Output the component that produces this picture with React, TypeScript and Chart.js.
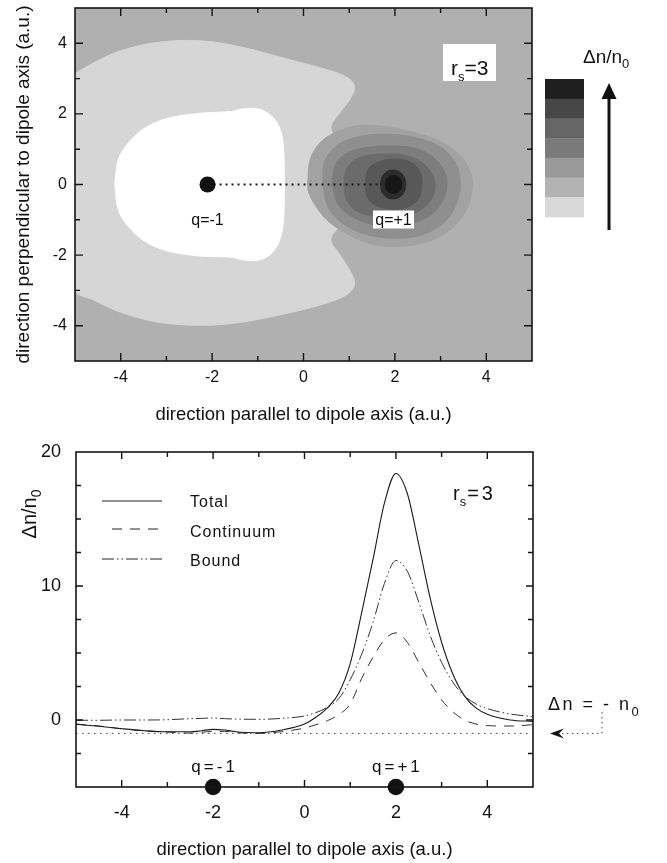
import React, { useEffect, useRef } from "react";
import { Chart, registerables } from "chart.js";

Chart.register(...registerables);

const FONT = "'Liberation Sans', Arial, Helvetica, sans-serif";

/* ================= TOP PANEL: contour map of Δn/n0 (a.u.) ================= */
// contour boundaries, [x, y] in a.u.
const lightRegion: number[][] = [
  [-5.0, 3.14], [-4.56, 3.47], [-4.0, 3.79], [-3.18, 4.03], [-2.23, 4.07], [-1.35, 3.89],
  [-0.26, 3.52], [0.55, 3.24], [0.97, 3.02], [1.12, 2.78], [1.03, 2.44], [0.8, 2.04],
  [0.6, 1.6], [0.85, 1.0], [0.8, 0.0], [0.85, -1.0], [0.6, -1.55], [0.8, -2.0],
  [1.03, -2.47], [1.12, -2.82], [0.97, -3.1], [0.55, -3.34], [-0.26, -3.62], [-1.35, -3.9],
  [-2.23, -3.99], [-3.18, -3.9], [-4.0, -3.62], [-4.56, -3.29], [-5.0, -2.97], [-5.0, 0.0],
];
const whiteRegion: number[][] = [
  [-4.13, 0], [-4.05, 0.72], [-3.83, 1.18], [-3.47, 1.6], [-2.96, 1.88], [-2.23, 2.02],
  [-1.57, 2.07], [-1.35, 2.14], [-0.99, 2.14], [-0.69, 1.93], [-0.51, 1.56], [-0.44, 1.09],
  [-0.42, 0], [-0.44, -1.05], [-0.53, -1.61], [-0.73, -1.99], [-1.02, -2.15], [-1.35, -2.13],
  [-1.57, -2.06], [-2.23, -2.03], [-2.96, -1.89], [-3.47, -1.61], [-3.83, -1.19], [-4.05, -0.73],
];
const ringA: number[][] = [
  [0.09, 0], [0.15, 0.72], [0.4, 1.23], [0.77, 1.51], [1.2, 1.67], [1.72, 1.65], [2.23, 1.53],
  [2.88, 1.28], [3.4, 0.86], [3.65, 0.35], [3.69, -0.12], [3.58, -0.68], [3.25, -1.24],
  [2.74, -1.61], [2.15, -1.75], [1.57, -1.71], [1.06, -1.47], [0.55, -1.05], [0.26, -0.59], [0.11, -0.21],
];
const ringB: number[][] = [
  [0.42, 0], [0.47, 0.67], [0.77, 1.14], [1.28, 1.37], [1.79, 1.42], [2.37, 1.35], [2.96, 1.09],
  [3.32, 0.62], [3.43, 0.07], [3.36, -0.49], [3.1, -1.05], [2.59, -1.43], [2.01, -1.52],
  [1.42, -1.43], [0.91, -1.15], [0.55, -0.68],
];
const ringC: number[][] = [
  [0.62, 0], [0.69, 0.53], [0.91, 0.86], [1.35, 1.04], [1.94, 1.09], [2.52, 1.0], [2.96, 0.62],
  [3.14, 0.07], [3.03, -0.49], [2.74, -0.91], [2.23, -1.13], [1.64, -1.15], [1.13, -0.96], [0.77, -0.59],
];
const ringD: number[][] = [
  [0.88, 0], [0.95, 0.45], [1.2, 0.75], [1.7, 0.86], [2.3, 0.8], [2.7, 0.5], [2.88, 0],
  [2.75, -0.5], [2.35, -0.85], [1.75, -0.92], [1.2, -0.78], [0.95, -0.45],
];
const ringE: number[][] = [
  [1.35, 0], [1.42, 0.44], [1.64, 0.64], [2.01, 0.72], [2.37, 0.62], [2.55, 0.35], [2.59, 0],
  [2.52, -0.4], [2.3, -0.63], [1.94, -0.7], [1.57, -0.59], [1.39, -0.35],
];
const ringF: number[][] = [
  [1.68, 0], [1.72, 0.22], [1.82, 0.36], [1.96, 0.41], [2.1, 0.36], [2.2, 0.22], [2.24, 0],
  [2.2, -0.22], [2.1, -0.36], [1.96, -0.41], [1.82, -0.36], [1.72, -0.22],
];
const ringG: number[][] = [
  [1.79, 0], [1.82, 0.15], [1.89, 0.23], [1.97, 0.25], [2.05, 0.23], [2.12, 0.15], [2.15, 0],
  [2.12, -0.15], [2.05, -0.23], [1.97, -0.25], [1.89, -0.23], [1.82, -0.15],
];
const contourLayers = [lightRegion, whiteRegion, ringA, ringB, ringC, ringD, ringE, ringF, ringG];
const contourColors = ["#d6d6d6", "#ffffff", "#a2a2a2", "#8f8f8f", "#7d7d7d", "#6b6b6b", "#585858", "#2c2c2c", "#161616"];
const mapBackground = "#b0b0b0";
// colour key, top to bottom
const keyColors = ["#1e1e1e", "#474747", "#666666", "#7a7a7a", "#999999", "#b3b3b3", "#d9d9d9"];

const topChargeX = [-2.1];
const topChargeY = [0];
const dipoleLineX = [-2.1, 1.72];
const dipoleLineY = [0, 0];

const topTicksX = [-4, -3, -2, -1, 0, 1, 2, 3, 4];
const topLabelsX = [-4, -2, 0, 2, 4];
const topTicksY = [-4, -3, -2, -1, 0, 1, 2, 3, 4];
const topLabelsY = [-4, -2, 0, 2, 4];

/* ================= BOTTOM PANEL: profiles along the dipole axis ================= */
const axisX = [-5, -4.5, -4, -3.5, -3, -2.5, -2.25, -2, -1.75, -1.5, -1, -0.5, 0, 0.25, 0.5, 0.75,
  1, 1.25, 1.5, 1.75, 2, 2.25, 2.5, 2.75, 3, 3.25, 3.5, 3.75, 4, 4.5, 5];
const totalDn = [-0.32, -0.47, -0.65, -0.8, -0.88, -0.88, -0.8, -0.7, -0.75, -0.88, -0.95, -0.75, -0.3, 0.2, 0.9, 2.0,
  4.2, 8.0, 12.0, 16.2, 18.4, 16.9, 13.1, 9.1, 5.8, 3.4, 1.8, 0.9, 0.43, 0.0, -0.1];
const continuumDn = [-0.3, -0.45, -0.65, -0.8, -0.9, -0.98, -0.92, -0.85, -0.85, -0.95, -1.0, -0.87, -0.6, -0.35, -0.05, 0.4,
  1.2, 3.1, 4.7, 6.0, 6.5, 5.8, 4.3, 2.8, 1.5, 0.6, 0.0, -0.3, -0.42, -0.45, -0.35];
const boundDn = [-0.02, -0.02, 0.0, 0.0, 0.02, 0.1, 0.12, 0.15, 0.1, 0.07, 0.05, 0.12, 0.3, 0.55, 0.95, 1.6,
  3.0, 4.9, 7.3, 10.2, 11.9, 11.1, 8.8, 6.3, 4.3, 2.8, 1.8, 1.2, 0.85, 0.45, 0.25];
const refLineX = [-5, 5];
const refLineY = [-1, -1];
const chargeX = [-2, 2];
const chargeY = [-5, -5];
const chargeNames = ["q=-1", "q=+1"];
const seriesNames = ["Total", "Continuum", "Bound"];

const botTicksX = [-4, -3, -2, -1, 0, 1, 2, 3, 4];
const botLabelsX = [-4, -2, 0, 2, 4];
const botTicksY = [-2.5, 0, 2.5, 5, 7.5, 10, 12.5, 15, 17.5];
const botMajorY = [0, 10];
const botLabelsY = [0, 10, 20];

const xy = (xs: number[], ys: number[]) => xs.map((x, i) => ({ x, y: ys[i] }));
const polyData = (pts: number[][]) => {
  const d = pts.map(([x, y]) => ({ x, y }));
  d.push({ ...d[0] });
  return d;
};

function drawFrame(chart: any, tx: number[], mx: number[], ty: number[], my: number[], big: number, small: number) {
  const { ctx, chartArea: a, scales } = chart;
  ctx.save();
  ctx.strokeStyle = "#141414";
  ctx.lineWidth = 1.6;
  ctx.strokeRect(a.left, a.top, a.right - a.left, a.bottom - a.top);
  ctx.lineWidth = 1.4;
  ctx.beginPath();
  tx.forEach((v) => {
    const p = scales.x.getPixelForValue(v);
    const l = mx.includes(v) ? big : small;
    ctx.moveTo(p, a.bottom); ctx.lineTo(p, a.bottom - l);
    ctx.moveTo(p, a.top); ctx.lineTo(p, a.top + l);
  });
  ty.forEach((v) => {
    const p = scales.y.getPixelForValue(v);
    const l = my.includes(v) ? big : small;
    ctx.moveTo(a.left, p); ctx.lineTo(a.left + l, p);
    ctx.moveTo(a.right, p); ctx.lineTo(a.right - l, p);
  });
  ctx.stroke();
  ctx.restore();
}

function subText(ctx: any, x: number, y: number, main: string, sub: string, size: number, subSize: number, drop: number, spacing = 0) {
  ctx.font = `${size}px ${FONT}`;
  ctx.letterSpacing = `${spacing}px`;
  ctx.textAlign = "left";
  ctx.textBaseline = "alphabetic";
  ctx.fillText(main, x, y);
  const w = ctx.measureText(main).width;
  ctx.font = `${subSize}px ${FONT}`;
  ctx.fillText(sub, x + w, y + drop);
  const w2 = ctx.measureText(sub).width;
  ctx.letterSpacing = "0px";
  return x + w + w2;
}

const topPlugin = {
  id: "topDecor",
  beforeDraw(chart: any) {
    const { ctx, chartArea: a } = chart;
    ctx.save();
    ctx.fillStyle = mapBackground;
    ctx.fillRect(a.left, a.top, a.right - a.left, a.bottom - a.top);
    ctx.restore();
  },
  afterDraw(chart: any) {
    const { ctx, chartArea: a, scales } = chart;
    const xs = scales.x, ys = scales.y;
    drawFrame(chart, topTicksX, topLabelsX, topTicksY, topLabelsY, 8, 5);
    ctx.save();
    ctx.fillStyle = "#111";
    ctx.font = `16px ${FONT}`;
    ctx.textAlign = "center";
    ctx.textBaseline = "alphabetic";
    ctx.fillText("q=-1", xs.getPixelForValue(topChargeX[0]), ys.getPixelForValue(0) + 40);
    // q=+1 label box
    const cx = xs.getPixelForValue(1.97);
    const y0 = ys.getPixelForValue(0);
    ctx.fillStyle = "#fff";
    ctx.fillRect(cx - 20.5, y0 + 26, 41, 18);
    ctx.fillStyle = "#111";
    ctx.fillText("q=+1", cx, y0 + 40.5);
    // r_s = 3 box
    const bx = a.right - 89, by = a.top + 36;
    ctx.fillStyle = "#fff";
    ctx.fillRect(bx, by, 53, 37);
    ctx.fillStyle = "#111";
    let nx = subText(ctx, bx + 8, by + 31, "r", "s", 21, 13, 6);
    ctx.font = `21px ${FONT}`;
    ctx.textAlign = "left";
    ctx.fillText("=3", nx - 7 + 7, by + 31);
    // colour key
    const kx = a.right + 13, ky = 79, kh = 19.7;
    keyColors.forEach((c, i) => {
      ctx.fillStyle = c;
      ctx.fillRect(kx, ky + i * kh, 39, kh + 0.5);
    });
    ctx.fillStyle = "#111";
    subText(ctx, a.right + 51, 63, "\u0394n/n", "0", 19, 13, 5);
    // arrow
    const ax = a.right + 77;
    ctx.strokeStyle = "#111";
    ctx.lineWidth = 3;
    ctx.beginPath();
    ctx.moveTo(ax, 230); ctx.lineTo(ax, 96);
    ctx.stroke();
    ctx.beginPath();
    ctx.moveTo(ax, 83); ctx.lineTo(ax - 7.5, 99); ctx.lineTo(ax + 7.5, 99); ctx.closePath();
    ctx.fill();
    ctx.restore();
  },
};

const botPlugin = {
  id: "botDecor",
  afterDraw(chart: any) {
    const { ctx, chartArea: a, scales } = chart;
    const xs = scales.x, ys = scales.y;
    drawFrame(chart, botTicksX, botLabelsX, botTicksY, botMajorY, 7, 5);
    ctx.save();
    ctx.fillStyle = "#111";
    ctx.strokeStyle = "#222";
    // legend
    const styles = [[], [10, 8], [12, 3, 1.5, 3, 1.5, 3]];
    const ly = [61, 89, 119];
    const ty = [63, 93, 122];
    seriesNames.forEach((n, i) => {
      ctx.lineWidth = 1;
      ctx.setLineDash(styles[i]);
      ctx.beginPath();
      ctx.moveTo(a.left + (i === 1 ? 36 : 26), ly[i]);
      ctx.lineTo(a.left + 86, ly[i]);
      ctx.stroke();
      ctx.setLineDash([]);
      ctx.font = `16px ${FONT}`;
      ctx.letterSpacing = "1px";
      ctx.textAlign = "left";
      ctx.textBaseline = "middle";
      ctx.fillText(n, a.left + 114, ty[i]);
    });
    ctx.letterSpacing = "0px";
    // y title
    ctx.save();
    ctx.translate(36, 74);
    ctx.rotate(-Math.PI / 2);
    ctx.font = `20px ${FONT}`;
    const w1 = ctx.measureText("\u0394n/n").width;
    ctx.font = `14px ${FONT}`;
    const w2 = ctx.measureText("0").width;
    subText(ctx, -(w1 + w2) / 2, 0, "\u0394n/n", "0", 20, 14, 5);
    ctx.restore();
    // r_s = 3
    ctx.fillStyle = "#111";
    const nx = subText(ctx, 453, 60, "r", "s", 20, 13, 6);
    ctx.font = `20px ${FONT}`;
    ctx.letterSpacing = "3px";
    ctx.textAlign = "left";
    ctx.textBaseline = "alphabetic";
    ctx.fillText("=3", nx + 1, 60);
    ctx.letterSpacing = "0px";
    // charge labels
    chargeNames.forEach((n, i) => {
      ctx.font = `17px ${FONT}`;
      ctx.letterSpacing = "3px";
      ctx.textAlign = "center";
      ctx.textBaseline = "alphabetic";
      ctx.fillText(n, xs.getPixelForValue(chargeX[i]) + 1.5, a.bottom - 15);
    });
    ctx.letterSpacing = "0px";
    // Δn = - n0 annotation with dotted arrow
    const yRef = ys.getPixelForValue(refLineY[0]);
    subText(ctx, a.right + 15, 270, "\u0394n = - n", "0", 18, 13, 6, 2.5);
    ctx.strokeStyle = "#444";
    ctx.lineWidth = 1;
    ctx.setLineDash([1.5, 3.5]);
    ctx.beginPath();
    ctx.moveTo(a.right + 69, 272);
    ctx.lineTo(a.right + 69, yRef);
    ctx.lineTo(a.right + 29, yRef);
    ctx.stroke();
    ctx.setLineDash([]);
    ctx.fillStyle = "#111";
    const tip = a.right + 17;
    ctx.beginPath();
    ctx.moveTo(tip, yRef);
    ctx.lineTo(tip + 14, yRef - 5);
    ctx.lineTo(tip + 9, yRef);
    ctx.lineTo(tip + 14, yRef + 5);
    ctx.closePath();
    ctx.fill();
    ctx.restore();
  },
};

function topConfig(): any {
  const layers = contourLayers.map((pts, i) => ({
    data: polyData(pts),
    showLine: true,
    fill: "shape",
    backgroundColor: contourColors[i],
    borderColor: contourColors[i],
    borderWidth: 1,
    pointRadius: 0,
    tension: 0.35,
  }));
  layers.reverse();
  const datasets = [
    { data: xy(topChargeX, topChargeY), showLine: false, pointRadius: 8, backgroundColor: "#111", borderWidth: 0 },
    { data: xy(dipoleLineX, dipoleLineY), showLine: true, fill: false, borderColor: "#1a1a1a", borderWidth: 2, borderDash: [2, 4], pointRadius: 0 },
    ...layers,
  ];
  return {
    type: "scatter",
    data: { datasets },
    plugins: [topPlugin],
    options: {
      responsive: false,
      animation: false,
      devicePixelRatio: 1,
      layout: { padding: { left: 0, top: 3, right: 135, bottom: 0 } },
      plugins: { legend: { display: false }, tooltip: { enabled: false } },
      scales: {
        x: {
          type: "linear", min: -5, max: 5,
          grid: { display: false, drawTicks: false }, border: { display: false },
          ticks: { stepSize: 1, autoSkip: false, maxRotation: 0, padding: 7, color: "#111", font: { family: FONT, size: 16 },
            callback: (v: number) => (topLabelsX.includes(v) ? String(v) : "") },
          title: { display: true, text: "direction parallel to dipole axis (a.u.)", color: "#111", font: { family: FONT, size: 18.5 }, padding: { top: 0, bottom: 14 } },
          afterFit: (s: any) => { s.height = 79; s.paddingLeft = 0; s.paddingRight = 0; },
        },
        y: {
          type: "linear", min: -5, max: 5,
          grid: { display: false, drawTicks: false }, border: { display: false },
          ticks: { stepSize: 1, autoSkip: false, padding: 8, color: "#111", font: { family: FONT, size: 16 },
            callback: (v: number) => (topLabelsY.includes(v) ? String(v) : "") },
          title: { display: true, text: "direction perpendicular to dipole axis (a.u.)", color: "#111", font: { family: FONT, size: 19 }, padding: { top: 12, bottom: 0 } },
          afterFit: (s: any) => { s.width = 75; s.paddingTop = 0; s.paddingBottom = 0; },
        },
      },
    },
  };
}

function botConfig(): any {
  const line = (ys: number[], dash: number[], color: string, w: number) => ({
    data: xy(axisX, ys), showLine: true, fill: false, borderColor: color, borderWidth: w,
    borderDash: dash, pointRadius: 0, cubicInterpolationMode: "monotone",
  });
  const datasets = [
    { data: xy(chargeX, chargeY), showLine: false, pointRadius: 8.3, backgroundColor: "#111", borderWidth: 0, clip: false },
    line(totalDn, [], "#1a1a1a", 1.1),
    line(continuumDn, [10, 8], "#333", 1),
    line(boundDn, [12, 3, 1.5, 3, 1.5, 3], "#333", 1),
    { data: xy(refLineX, refLineY), showLine: true, fill: false, borderColor: "#444", borderWidth: 1, borderDash: [1.5, 4.5], pointRadius: 0 },
  ];
  return {
    type: "scatter",
    data: { datasets },
    plugins: [botPlugin],
    options: {
      responsive: false,
      animation: false,
      devicePixelRatio: 1,
      layout: { padding: { left: 0, top: 12, right: 134, bottom: 0 } },
      plugins: { legend: { display: false }, tooltip: { enabled: false } },
      scales: {
        x: {
          type: "linear", min: -5, max: 5,
          grid: { display: false, drawTicks: false }, border: { display: false },
          ticks: { stepSize: 1, autoSkip: false, maxRotation: 0, padding: 15, color: "#111", font: { family: FONT, size: 18 },
            callback: (v: number) => (botLabelsX.includes(v) ? String(v) : "") },
          title: { display: true, text: "direction parallel to dipole axis (a.u.)", color: "#111", font: { family: FONT, size: 18.5 }, padding: { top: 0, bottom: 2 } },
          afterFit: (s: any) => { s.height = 76; s.paddingLeft = 0; s.paddingRight = 0; },
        },
        y: {
          type: "linear", min: -5, max: 20,
          grid: { display: false, drawTicks: false }, border: { display: false },
          ticks: { stepSize: 2.5, autoSkip: false, padding: 15, color: "#111", font: { family: FONT, size: 18 },
            callback: (v: number) => (botLabelsY.includes(v) ? String(v) : "") },
          afterFit: (s: any) => { s.width = 76; s.paddingTop = 0; s.paddingBottom = 0; },
        },
      },
    },
  };
}

export default function App() {
  const topRef = useRef<HTMLCanvasElement>(null);
  const botRef = useRef<HTMLCanvasElement>(null);
  useEffect(() => {
    const c1 = new Chart(topRef.current as HTMLCanvasElement, topConfig());
    const c2 = new Chart(botRef.current as HTMLCanvasElement, botConfig());
    return () => {
      c1.destroy();
      c2.destroy();
    };
  }, []);
  return (
    <div style={{ position: "absolute", left: 0, top: 0, width: 667, height: 863, background: "#fff" }}>
      <canvas ref={topRef} width={667} height={440} style={{ position: "absolute", left: 0, top: 0 }} />
      <canvas ref={botRef} width={667} height={423} style={{ position: "absolute", left: 0, top: 440 }} />
    </div>
  );
}
